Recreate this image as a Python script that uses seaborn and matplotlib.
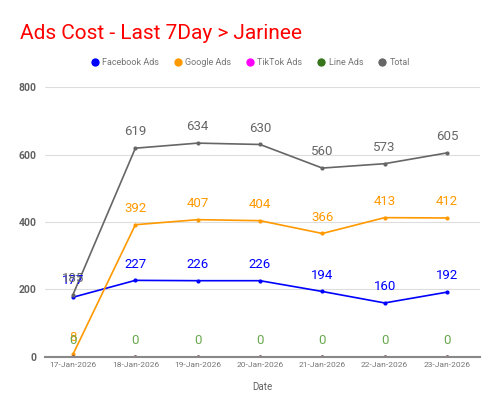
import matplotlib
matplotlib.use("Agg")
import matplotlib.pyplot as plt
import seaborn as sns
import pandas as pd
from matplotlib.lines import Line2D

dates = ["17-Jan-2026", "18-Jan-2026", "19-Jan-2026", "20-Jan-2026",
         "21-Jan-2026", "22-Jan-2026", "23-Jan-2026"]
facebook = [177, 227, 226, 226, 194, 160, 192]
google = [8, 392, 407, 404, 366, 413, 412]
tiktok = [0, 0, 0, 0, 0, 0, 0]
line_ads = [0, 0, 0, 0, 0, 0, 0]
total = [185, 619, 634, 630, 560, 573, 605]

series_names = ["Facebook Ads", "Google Ads", "TikTok Ads", "Line Ads", "Total"]
series_values = [facebook, google, tiktok, line_ads, total]
colors = ["#0000ff", "#ff9900", "#ff00ff", "#38761d", "#666666"]
label_colors = ["#0000ff", "#ff9900", "#ff00ff", "#6aa84f", "#666666"]

rows = []
for name, vals in zip(series_names, series_values):
    for i, (d, v) in enumerate(zip(dates, vals)):
        rows.append({"Date": d, "idx": i, "Series": name, "Value": v})
df = pd.DataFrame(rows)

sns.set_theme(style="white")
plt.rcParams["font.family"] = ["Roboto", "DejaVu Sans"]

fig = plt.figure(figsize=(5.0, 4.15), dpi=100)
ax = fig.add_axes([0.09, 0.14, 0.87, 0.65])

palette = dict(zip(series_names, colors))
sns.lineplot(data=df, x="idx", y="Value", hue="Series", hue_order=series_names,
             palette=palette, marker="o", markersize=3, markeredgewidth=0,
             linewidth=1.2, ax=ax, legend=False, sort=False)

# labels
for name, vals, lc in zip(series_names, series_values, label_colors):
    if name == "TikTok Ads":
        continue
    for i, v in enumerate(vals):
        ax.annotate(str(v), (i, v), xytext=(0, 7), textcoords="offset points",
                    ha="center", va="bottom", color=lc, fontsize=9.5)

ax.set_xlim(-0.45, 6.53)
ax.set_ylim(0, 800)
ax.set_yticks([0, 200, 400, 600, 800])
ax.set_xticks(range(len(dates)))
ax.set_xticklabels(dates)
ax.tick_params(axis="x", labelsize=6, colors="#757575", length=0, pad=4)
ax.tick_params(axis="y", labelsize=7.5, colors="#616161", length=0, pad=6)
for lbl in ax.get_yticklabels():
    lbl.set_fontweight("bold")
ax.grid(axis="y", color="#dddddd", linewidth=0.8)
ax.set_axisbelow(True)
for s in ["left", "right", "top"]:
    ax.spines[s].set_visible(False)
ax.spines["bottom"].set_color("#888888")
ax.spines["bottom"].set_linewidth(1.5)
ax.set_xlabel("Date", fontsize=7, color="#616161", labelpad=10)
ax.set_ylabel("")

fig.text(0.04, 0.92, "Ads Cost - Last 7Day > Jarinee", color="#ff0000",
         fontsize=15, ha="left", va="center")

handles = [Line2D([0], [0], marker="o", color="w", markerfacecolor=c,
                  markersize=7, linewidth=0) for c in colors]
leg = fig.legend(handles, series_names, loc="center", bbox_to_anchor=(0.5, 0.85),
                 ncol=5, frameon=False, fontsize=6.5, handletextpad=0.3,
                 columnspacing=1.6, handlelength=1.0)
for t in leg.get_texts():
    t.set_color("#757575")

fig.savefig("out.png", dpi=100)
